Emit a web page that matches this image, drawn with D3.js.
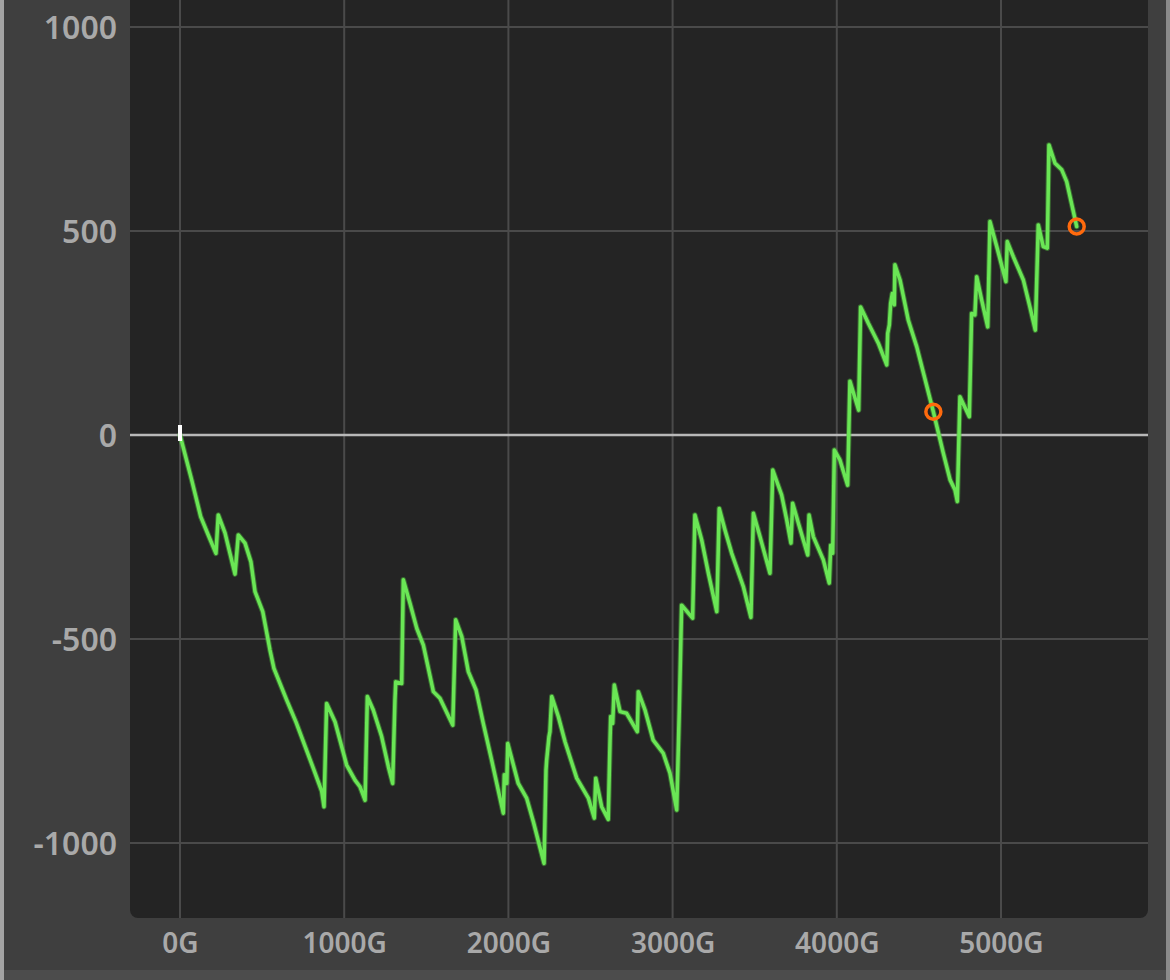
<!DOCTYPE html>
<html>
<head>
<meta charset="utf-8">
<script src="https://cdn.jsdelivr.net/npm/d3@7"></script>
<style>
  html, body { margin: 0; padding: 0; background: #3f3f3f; }
  svg { display: block; }
</style>
</head>
<body>
<svg id="chart" width="1170" height="980"></svg>
<script>
// balance (G) vs running total
const spent = [
  0, 71, 126, 172, 219, 233, 274, 335, 355, 396, 432, 457, 504, 548, 572, 650, 706, 812, 863, 877,
  893, 944, 1015, 1066, 1096, 1127, 1141, 1177, 1228, 1269, 1295, 1309, 1314, 1350, 1360, 1401, 1442, 1482, 1543, 1583,
  1661, 1679, 1716, 1756, 1803, 1847, 1898, 1969, 1975, 1990, 1996, 2060, 2111, 2152, 2217, 2229, 2233, 2247, 2253, 2264,
  2304, 2345, 2416, 2487, 2523, 2532, 2568, 2608, 2619, 2623, 2635, 2645, 2680, 2720, 2785, 2791, 2832, 2882, 2943, 2984,
  3025, 3041, 3055, 3122, 3136, 3177, 3218, 3269, 3284, 3319, 3360, 3431, 3477, 3492, 3532, 3593, 3610, 3664, 3695, 3721,
  3731, 3766, 3823, 3831, 3857, 3918, 3954, 3963, 3975, 3985, 4019, 4066, 4080, 4133, 4145, 4192, 4253, 4304, 4310, 4320,
  4328, 4338, 4350, 4354, 4385, 4435, 4487, 4588, 4649, 4690, 4720, 4734, 4750, 4807, 4821, 4841, 4852, 4882, 4919, 4933,
  4974, 5030, 5038, 5075, 5136, 5176, 5209, 5227, 5257, 5282, 5292, 5329, 5370, 5400, 5461
];
const balance = [
  0, -110, -200, -245, -290, -196, -240, -341, -245, -265, -311, -384, -433, -527, -572, -650, -703, -817, -873, -911,
  -658, -703, -809, -846, -862, -895, -641, -674, -739, -813, -854, -650, -605, -609, -355, -413, -474, -515, -629, -645,
  -711, -453, -494, -580, -625, -707, -797, -927, -833, -854, -756, -854, -890, -948, -1050, -821, -797, -740, -727, -641,
  -690, -752, -841, -890, -939, -841, -911, -942, -748, -690, -707, -613, -678, -682, -727, -629, -674, -748, -780, -829,
  -919, -670, -417, -449, -196, -257, -339, -433, -180, -233, -290, -372, -447, -192, -249, -339, -86, -147, -208, -265,
  -167, -216, -294, -196, -249, -306, -363, -270, -290, -37, -61, -123, 132, 61, 314, 274, 225, 172, 249, 270,
  323, 347, 319, 417, 380, 282, 216, 57, -45, -110, -135, -163, 94, 45, 298, 294, 388, 331, 265, 523,
  462, 376, 474, 437, 380, 314, 257, 515, 462, 458, 711, 666, 650, 621, 511
];
const markedIdx = [127, 154];
const xTicks = [0, 1000, 2000, 3000, 4000, 5000];
const yTicks = [-1000, -500, 0, 500, 1000];

const svg = d3.select("#chart");
const x = d3.scaleLinear().domain([0, 5000]).range([180, 1001]);
const y = d3.scaleLinear().domain([-1000, 1000]).range([843, 27]);

const plotLeft = 130, plotRight = 1148, plotTop = -20, plotBottom = 918;

// frame pieces
svg.append("rect").attr("x", 0).attr("y", 0).attr("width", 1170).attr("height", 980).attr("fill", "#3f3f3f");
svg.append("rect").attr("x", 0).attr("y", 0).attr("width", 4).attr("height", 980).attr("fill", "#a3a3a3");
svg.append("rect").attr("x", 1166).attr("y", 0).attr("width", 4).attr("height", 980).attr("fill", "#8a8a8a");
svg.append("rect").attr("x", 4).attr("y", 970).attr("width", 1162).attr("height", 10).attr("fill", "#4c4c4c");

// plot area
svg.append("rect")
  .attr("x", plotLeft).attr("y", plotTop)
  .attr("width", plotRight - plotLeft).attr("height", plotBottom - plotTop)
  .attr("rx", 8)
  .attr("fill", "#242424");

svg.append("clipPath").attr("id", "plotclip")
  .append("rect")
  .attr("x", plotLeft).attr("y", plotTop)
  .attr("width", plotRight - plotLeft).attr("height", plotBottom - plotTop);

const grid = svg.append("g").attr("clip-path", "url(#plotclip)");

// Draw grid
grid.selectAll("line.v")
  .data(xTicks)
  .enter()
  .append("line")
  .attr("x1", (d) => x(d)).attr("x2", (d) => x(d))
  .attr("y1", plotTop).attr("y2", plotBottom)
  .attr("stroke", "#4a4a4a")
  .attr("stroke-width", 2);

grid.selectAll("line.h")
  .data(yTicks)
  .enter()
  .append("line")
  .attr("x1", plotLeft).attr("x2", plotRight)
  .attr("y1", (d) => y(d)).attr("y2", (d) => y(d))
  .attr("stroke", (d) => (d === 0 ? "#b8b8b8" : "#4a4a4a"))
  .attr("stroke-width", (d) => (d === 0 ? 2.5 : 2));

// Axis labels
const labelFont = (sel, size) =>
  sel.attr("fill", "#a9a9a9")
    .style("font-family", "'Noto Sans', sans-serif")
    .style("font-weight", 600)
    .style("font-size", size);

const xAxis = d3.axisBottom(x).tickValues(xTicks).tickFormat((d) => d + "G").tickSize(0).tickPadding(0);
const xg = svg.append("g").attr("transform", `translate(0, 953)`).call(xAxis);
xg.select(".domain").remove();
xg.selectAll("text").attr("dy", 0).attr("y", 0).call(labelFont, "28px");

const yAxis = d3.axisLeft(y).tickValues(yTicks).tickFormat((d) => String(d)).tickSize(0).tickPadding(0);
const yg = svg.append("g").attr("transform", `translate(117, 0)`).call(yAxis);
yg.select(".domain").remove();
yg.selectAll("text").attr("x", 0).attr("dy", "0.36em").call(labelFont, "32px");

// Draw line
const pts = spent.map((s, i) => [s, balance[i]]);
const line = d3.line().x((d) => x(d[0])).y((d) => y(d[1]));
const plot = svg.append("g").attr("clip-path", "url(#plotclip)");

plot.append("path")
  .datum(pts)
  .attr("d", line)
  .attr("fill", "none")
  .attr("stroke", "#4fb83e")
  .attr("stroke-opacity", 0.5)
  .attr("stroke-width", 5.5)
  .attr("stroke-linejoin", "round")
  .attr("stroke-linecap", "round");

plot.append("path")
  .datum(pts)
  .attr("d", line)
  .attr("fill", "none")
  .attr("stroke", "#6ae655")
  .attr("stroke-width", 3.5)
  .attr("stroke-linejoin", "round")
  .attr("stroke-linecap", "round");

// start marker
plot.append("rect")
  .attr("x", x(0) - 2)
  .attr("y", y(0) - 10)
  .attr("width", 4)
  .attr("height", 16)
  .attr("fill", "#ffffff");

// orange circled points
plot.selectAll("circle.mark")
  .data(markedIdx.map((i) => pts[i]))
  .enter()
  .append("circle")
  .attr("cx", (d) => x(d[0]))
  .attr("cy", (d) => y(d[1]))
  .attr("r", 7.5)
  .attr("fill", "none")
  .attr("stroke", "#ff6a0d")
  .attr("stroke-width", 3.5);
</script>
</body>
</html>
